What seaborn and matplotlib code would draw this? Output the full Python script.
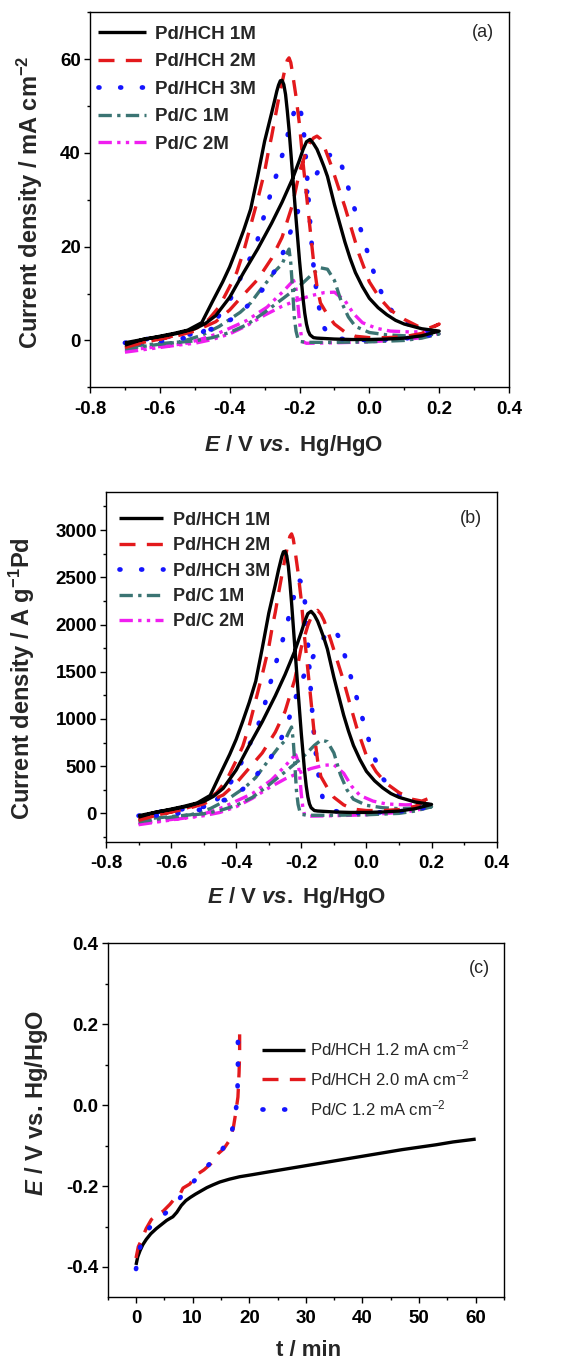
import matplotlib
matplotlib.use("Agg")
import matplotlib.pyplot as plt
from matplotlib.ticker import MultipleLocator
import pandas as pd
import seaborn as sns

# ------------------------------------------------------------------ data
cv_labels = ["Pd/HCH 1M", "Pd/HCH 2M", "Pd/HCH 3M", "Pd/C 1M", "Pd/C 2M"]

# Pd/HCH 1M
E_f_hch1 = [-0.70, -0.65, -0.60, -0.55, -0.50, -0.47, -0.44, -0.40, -0.36, -0.32, -0.28, -0.25, -0.22, -0.20,
            -0.19, -0.18, -0.17, -0.16, -0.15, -0.14, -0.13, -0.12, -0.11, -0.10, -0.085, -0.07, -0.055, -0.04,
            -0.02, 0.00, 0.025, 0.05, 0.075, 0.10, 0.15, 0.20]
ja_f_hch1 = [-1.0, 0.2, 0.8, 1.5, 2.5, 3.6, 5.3, 9.2, 14.5, 19.5, 25.0, 29.5, 34.5, 38.5,
             40.7, 42.4, 42.9, 42.0, 40.8, 39.0, 37.1, 35.0, 32.0, 29.0, 25.0, 21.0, 17.5, 14.5,
             11.5, 9.0, 7.0, 5.5, 4.3, 3.5, 2.5, 2.0]
jb_f_hch1 = [-40, 10, 40, 75, 125, 180, 265, 460, 720, 970, 1245, 1470, 1720, 1920,
             2030, 2115, 2140, 2100, 2035, 1945, 1850, 1740, 1590, 1440, 1240, 1040, 870, 720,
             570, 445, 345, 270, 210, 170, 120, 95]
E_b_hch1 = [0.20, 0.15, 0.10, 0.05, 0.00, -0.05, -0.10, -0.15, -0.16, -0.17, -0.175, -0.18, -0.185, -0.19,
            -0.20, -0.21, -0.22, -0.23, -0.235, -0.24, -0.245, -0.25, -0.255, -0.26, -0.265, -0.27, -0.28,
            -0.29, -0.30, -0.32, -0.34, -0.36, -0.38, -0.40, -0.42, -0.45, -0.48, -0.52, -0.56, -0.60, -0.65,
            -0.70]
ja_b_hch1 = [2.0, 1.0, 0.5, 0.3, 0.2, 0.2, 0.3, 0.5, 0.6, 1.2, 2.0, 3.5, 5.8, 9.0,
             17.0, 26.0, 35.5, 45.0, 49.0, 52.5, 54.6, 55.5, 55.4, 54.5, 53.2, 51.6, 48.5,
             45.5, 42.5, 35.0, 28.0, 23.5, 19.5, 15.7, 12.5, 8.2, 3.8, 2.2, 1.5, 0.9, 0.2,
             -0.5]
jb_b_hch1 = [95, 50, 25, 15, 10, 10, 15, 25, 30, 60, 100, 175, 290, 445,
             840, 1290, 1760, 2230, 2440, 2620, 2730, 2775, 2770, 2720, 2650, 2580, 2420,
             2270, 2120, 1750, 1400, 1175, 975, 785, 625, 410, 190, 110, 75, 45, 10,
             -25]

# Pd/HCH 2M
E_f_hch2 = [-0.70, -0.65, -0.60, -0.55, -0.50, -0.47, -0.44, -0.40, -0.36, -0.32, -0.28, -0.25, -0.22, -0.20,
            -0.18, -0.17, -0.16, -0.15, -0.14, -0.13, -0.11, -0.09, -0.07, -0.05, -0.03, 0.00, 0.03, 0.06,
            0.10, 0.14, 0.17, 0.20]
ja_f_hch2 = [-1.5, -0.5, 0.3, 1.0, 2.0, 3.0, 4.0, 6.5, 9.8, 13.0, 17.5, 22.0, 29.0, 36.0,
             40.5, 42.2, 43.2, 43.6, 43.0, 41.5, 37.5, 33.0, 28.5, 23.5, 18.5, 12.5, 9.0, 6.5,
             4.5, 3.0, 2.6, 3.5]
jb_f_hch2 = [-75, -25, 15, 50, 100, 150, 195, 320, 480, 640, 860, 1080, 1420, 1760,
             1990, 2075, 2120, 2150, 2110, 2040, 1840, 1620, 1400, 1150, 910, 610, 440, 320,
             220, 150, 130, 170]
E_b_hch2 = [0.20, 0.15, 0.10, 0.05, 0.00, -0.04, -0.07, -0.10, -0.12, -0.14, -0.15, -0.16, -0.17, -0.18,
            -0.19, -0.20, -0.21, -0.22, -0.225, -0.23, -0.235, -0.24, -0.25, -0.26, -0.27, -0.28, -0.29,
            -0.30, -0.32, -0.34, -0.36, -0.38, -0.40, -0.43, -0.46, -0.49, -0.53, -0.58, -0.64, -0.70]
ja_b_hch2 = [3.5, 1.5, 0.8, 0.6, 0.6, 0.9, 1.8, 3.5, 5.5, 8.0, 11.5, 17.0, 24.0, 31.0,
             38.0, 46.0, 52.0, 57.0, 59.3, 60.3, 59.8, 58.5, 55.0, 51.5, 47.5, 43.5, 40.0,
             36.0, 30.0, 24.5, 19.0, 14.5, 11.5, 7.2, 4.5, 2.8, 1.6, 0.6, -0.3, -1.0]
jb_b_hch2 = [170, 75, 40, 30, 30, 45, 90, 170, 270, 390, 560, 830, 1180, 1520,
             1860, 2250, 2550, 2800, 2910, 2960, 2935, 2870, 2700, 2520, 2330, 2130, 1960,
             1760, 1470, 1200, 930, 710, 560, 350, 220, 140, 80, 30, -15, -50]

# Pd/HCH 3M
E_f_hch3 = [-0.70, -0.65, -0.60, -0.55, -0.50, -0.46, -0.42, -0.38, -0.35, -0.30, -0.265, -0.24, -0.22, -0.20,
            -0.17, -0.14, -0.12, -0.10, -0.08, -0.06, -0.04, -0.02, 0.00, 0.02, 0.05, 0.09, 0.14, 0.20]
ja_f_hch3 = [-0.5, 0.2, 0.6, 1.0, 1.4, 2.2, 3.4, 5.2, 7.3, 11.3, 15.6, 20.0, 24.5, 28.5,
             33.0, 37.0, 39.3, 40.0, 37.5, 32.5, 27.5, 22.5, 17.5, 12.8, 7.5, 4.3, 2.4, 1.4]
jb_f_hch3 = [-25, 10, 30, 50, 70, 110, 165, 255, 360, 555, 765, 980, 1200, 1400,
             1620, 1810, 1920, 1955, 1840, 1590, 1350, 1100, 860, 630, 370, 210, 120, 70]
E_b_hch3 = [0.20, 0.10, 0.00, -0.06, -0.10, -0.12, -0.135, -0.15, -0.16, -0.165, -0.17, -0.175, -0.18, -0.185,
            -0.19, -0.20, -0.21, -0.22, -0.23, -0.24, -0.26, -0.28, -0.30, -0.32, -0.34, -0.37, -0.40, -0.44,
            -0.48, -0.52, -0.58, -0.64, -0.70]
ja_b_hch3 = [1.4, 0.4, 0.1, 0.2, 0.5, 1.5, 3.5, 9.5, 16.0, 20.5, 25.5, 31.0, 37.0, 42.0,
             46.5, 50.0, 50.5, 47.5, 45.0, 42.0, 36.8, 32.0, 27.0, 21.5, 17.8, 13.2, 8.5, 4.3,
             1.6, 0.6, 0.0, -0.4, -0.8]
jb_b_hch3 = [70, 20, 5, 10, 25, 75, 170, 465, 785, 1000, 1250, 1520, 1810, 2060,
             2280, 2450, 2480, 2330, 2210, 2060, 1800, 1570, 1320, 1050, 870, 650, 415, 210,
             80, 30, 0, -20, -40]

# Pd/C 1M
E_f_c1 = [-0.70, -0.65, -0.60, -0.55, -0.50, -0.45, -0.40, -0.35, -0.30, -0.25, -0.22, -0.19, -0.16, -0.14,
          -0.12, -0.10, -0.08, -0.06, -0.04, 0.00, 0.05, 0.10, 0.15, 0.20]
ja_f_c1 = [-1.8, -1.3, -0.8, -0.4, -0.1, 0.6, 1.7, 3.4, 6.0, 8.8, 10.5, 12.3, 14.4, 15.5,
           15.2, 12.8, 8.2, 5.0, 3.0, 1.7, 1.2, 1.0, 1.1, 1.4]
jb_f_c1 = [-90, -65, -40, -20, -5, 30, 85, 170, 300, 440, 525, 615, 720, 775,
           760, 640, 410, 250, 150, 85, 60, 50, 55, 70]
E_b_c1 = [0.20, 0.15, 0.10, 0.00, -0.10, -0.18, -0.20, -0.205, -0.21, -0.215, -0.22, -0.225, -0.23, -0.24,
          -0.25, -0.27, -0.29, -0.31, -0.34, -0.37, -0.39, -0.43, -0.48, -0.54, -0.62, -0.70]
ja_b_c1 = [1.4, 0.5, 0.0, -0.3, -0.4, -0.4, -0.2, 0.5, 2.0, 5.0, 11.0, 16.5, 19.5, 18.0,
           16.3, 14.8, 12.8, 11.0, 8.0, 6.0, 5.0, 3.0, 1.1, -0.3, -0.8, -1.3]
jb_b_c1 = [70, 25, 0, -15, -20, -20, -10, 25, 95, 240, 520, 780, 915, 850,
           770, 700, 610, 520, 380, 285, 235, 140, 50, -15, -40, -65]

# Pd/C 2M
E_f_c2 = [-0.70, -0.65, -0.60, -0.55, -0.50, -0.45, -0.40, -0.35, -0.30, -0.25, -0.21, -0.17, -0.13, -0.10,
          -0.07, -0.045, -0.02, 0.02, 0.06, 0.12, 0.20]
ja_f_c2 = [-2.5, -2.0, -1.5, -1.0, -0.6, 0.2, 1.4, 3.2, 5.4, 7.3, 8.5, 9.5, 10.2, 10.3,
           8.5, 5.7, 3.8, 2.6, 2.0, 1.8, 2.0]
jb_f_c2 = [-120, -95, -70, -45, -25, 10, 70, 160, 270, 365, 425, 475, 510, 515,
           425, 285, 190, 130, 100, 90, 100]
E_b_c2 = [0.20, 0.15, 0.10, 0.00, -0.10, -0.18, -0.19, -0.195, -0.20, -0.205, -0.21, -0.217, -0.23, -0.245,
          -0.27, -0.293, -0.32, -0.35, -0.40, -0.44, -0.49, -0.53, -0.60, -0.65, -0.70]
ja_b_c2 = [1.5, 0.6, 0.2, -0.3, -0.5, -0.6, -0.3, 1.0, 4.0, 8.0, 11.0, 12.8, 11.8, 10.6,
           8.8, 7.1, 5.8, 4.3, 2.6, 1.3, 0.1, -0.7, -1.3, -1.7, -2.1]
jb_b_c2 = [75, 30, 10, -15, -25, -30, -15, 50, 200, 400, 550, 620, 580, 520,
           430, 350, 285, 210, 130, 65, 5, -35, -65, -85, -105]

# Panel (c): chronopotentiometry
cp_labels = ["Pd/HCH 1.2 mA cm$^{-2}$", "Pd/HCH 2.0 mA cm$^{-2}$", "Pd/C 1.2 mA cm$^{-2}$"]
t_hch12 = [0, 0.3, 0.7, 1.2, 1.8, 2.6, 3.6, 4.5, 5.4, 6.0, 6.5, 7.2, 8.0, 8.8, 9.6, 10.5, 11.5, 12.5, 13.6,
           14.8, 16.5, 18.3, 20.5, 23.0, 26.0, 29.0, 32.0, 35.0, 38.0, 41.0, 44.0, 47.0, 50.0, 53.0, 56.0, 60.0]
E_hch12 = [-0.395, -0.375, -0.360, -0.345, -0.332, -0.318, -0.305, -0.295, -0.285, -0.280, -0.276, -0.265,
           -0.248, -0.236, -0.228, -0.220, -0.212, -0.204, -0.197, -0.190, -0.183, -0.177, -0.172, -0.166,
           -0.159, -0.152, -0.145, -0.138, -0.131, -0.124, -0.117, -0.110, -0.104, -0.098, -0.091, -0.084]
t_hch20 = [0, 0.4, 0.9, 1.8, 2.7, 3.6, 4.8, 6.0, 7.0, 7.7, 8.3, 9.5, 10.7, 12.0, 13.2, 14.5, 15.5, 16.6,
           17.2, 17.6, 18.0, 18.2, 18.3, 18.3]
E_hch20 = [-0.378, -0.350, -0.335, -0.305, -0.283, -0.272, -0.262, -0.245, -0.228, -0.222, -0.205, -0.195,
           -0.172, -0.160, -0.145, -0.120, -0.108, -0.085, -0.055, -0.020, 0.020, 0.080, 0.130, 0.175]
t_c12 = [0, 0.5, 1.0, 2.0, 3.0, 4.5, 6.0, 7.5, 8.6, 10.0, 11.3, 12.8, 14.2, 15.3, 16.3, 17.0, 17.4, 17.7,
         17.9, 18.0, 18.0, 18.0]
E_c12 = [-0.405, -0.360, -0.340, -0.310, -0.292, -0.275, -0.258, -0.235, -0.213, -0.192, -0.170, -0.148,
         -0.126, -0.108, -0.087, -0.060, -0.036, -0.005, 0.030, 0.075, 0.125, 0.180]

# ------------------------------------------------------------------ style
sns.set_theme(style="ticks")
plt.rcParams.update({
    "font.weight": "bold",
    "axes.labelweight": "bold",
    "axes.linewidth": 1.0,
    "axes.edgecolor": "black",
    "axes.unicode_minus": False,
    "mathtext.fontset": "custom",
    "mathtext.it": "Liberation Sans:italic:bold",
    "mathtext.rm": "Liberation Sans:bold",
    "mathtext.bf": "Liberation Sans:bold",
    "mathtext.default": "regular",
    "xtick.color": "black",
    "ytick.color": "black",
})
plt.rcParams["font.family"] = ["Liberation Sans", "DejaVu Sans"]

colors = ["#000000", "#e3191c", "#1414ff", "#3b7473", "#f01ef0"]
styles = ["-", (0, (4.8, 3.4)), (0, (0.2, 4.4)), (0, (4.0, 1.6, 1.0, 1.6)),
          (0, (4.0, 1.6, 1.0, 1.6, 1.0, 1.6))]
widths = [2.4, 2.4, 3.4, 2.4, 2.4]
caps = ["butt", "butt", "round", "butt", "butt"]

fig = plt.figure(figsize=(5.77, 13.6), dpi=100)
ax_a = fig.add_axes([0.1560, 0.7152, 0.7262, 0.2757])
ax_b = fig.add_axes([0.1837, 0.3811, 0.6771, 0.2569])
ax_c = fig.add_axes([0.1867, 0.0461, 0.6868, 0.2603])

cv_a = [(E_f_hch1 + E_b_hch1, ja_f_hch1 + ja_b_hch1),
        (E_f_hch2 + E_b_hch2, ja_f_hch2 + ja_b_hch2),
        (E_f_hch3 + E_b_hch3, ja_f_hch3 + ja_b_hch3),
        (E_f_c1 + E_b_c1, ja_f_c1 + ja_b_c1),
        (E_f_c2 + E_b_c2, ja_f_c2 + ja_b_c2)]
cv_b = [(E_f_hch1 + E_b_hch1, jb_f_hch1 + jb_b_hch1),
        (E_f_hch2 + E_b_hch2, jb_f_hch2 + jb_b_hch2),
        (E_f_hch3 + E_b_hch3, jb_f_hch3 + jb_b_hch3),
        (E_f_c1 + E_b_c1, jb_f_c1 + jb_b_c1),
        (E_f_c2 + E_b_c2, jb_f_c2 + jb_b_c2)]


def draw_cv(ax, data):
    handles = [None] * len(cv_labels)
    for i in reversed(range(len(cv_labels))):
        x, y = data[i]
        df = pd.DataFrame({"E": x, "j": y})
        sns.lineplot(data=df, x="E", y="j", sort=False, estimator=None, ax=ax,
                     color=colors[i], linestyle=styles[i], linewidth=widths[i],
                     dash_capstyle=caps[i], solid_capstyle="butt", solid_joinstyle="round",
                     label=cv_labels[i])
        handles[i] = ax.get_lines()[-1]
    return handles


def style_axes(ax, xmaj, xmin, ymaj, ymin):
    ax.xaxis.set_major_locator(MultipleLocator(xmaj))
    ax.xaxis.set_minor_locator(MultipleLocator(xmin))
    ax.yaxis.set_major_locator(MultipleLocator(ymaj))
    ax.yaxis.set_minor_locator(MultipleLocator(ymin))
    ax.tick_params(which="major", direction="out", length=4.5, width=1.0, labelsize=13.5)
    ax.tick_params(which="minor", direction="out", length=2.5, width=1.0)
    ax.tick_params(axis="x", which="major", pad=5)
    ax.tick_params(axis="y", which="major", pad=2)
    for s in ax.spines.values():
        s.set_visible(True)
        s.set_linewidth(1.0)
        s.set_color("black")


xlabel_E = r"$\mathit{E}$ / V $\mathit{vs.}$ Hg/HgO"

# ---- panel (a)
h = draw_cv(ax_a, cv_a)
ax_a.set_xlim(-0.8, 0.4)
ax_a.set_ylim(-10, 70)
style_axes(ax_a, 0.2, 0.1, 20, 10)
ax_a.set_xlabel(xlabel_E, fontsize=16, va="center")
ax_a.set_ylabel("Current density / mA cm$^{-2}$", fontsize=17, va="center")
ax_a.xaxis.set_label_coords(0.487, -0.154)
ax_a.yaxis.set_label_coords(-0.143, 0.495)
ax_a.legend(h, cv_labels, loc="upper left", bbox_to_anchor=(0.019, 0.964), frameon=False,
            borderaxespad=0, borderpad=0, fontsize=13.5, handlelength=2.56, handletextpad=0.5,
            labelspacing=0.55)
ax_a.text(0.938, 0.945, "(a)", transform=ax_a.transAxes, ha="center", va="center",
          fontsize=13, fontweight="normal")

# ---- panel (b)
h = draw_cv(ax_b, cv_b)
ax_b.set_xlim(-0.8, 0.4)
ax_b.set_ylim(-300, 3400)
style_axes(ax_b, 0.2, 0.1, 500, 250)
ax_b.set_xlabel(xlabel_E, fontsize=16, va="center")
ax_b.set_ylabel("Current density / A g$^{-1}$Pd", fontsize=17, va="center")
ax_b.xaxis.set_label_coords(0.488, -0.161)
ax_b.yaxis.set_label_coords(-0.215, 0.466)
ax_b.legend(h, cv_labels, loc="upper left", bbox_to_anchor=(0.033, 0.945), frameon=False,
            borderaxespad=0, borderpad=0, fontsize=13, handlelength=2.44, handletextpad=0.54,
            labelspacing=0.47)
ax_b.text(0.933, 0.926, "(b)", transform=ax_b.transAxes, ha="center", va="center",
          fontsize=13, fontweight="normal")

# ---- panel (c)
cp_data = [(t_hch12, E_hch12), (t_hch20, E_hch20), (t_c12, E_c12)]
cp_colors = ["#000000", "#e3191c", "#1414ff"]
cp_styles = ["-", (0, (4.8, 3.4)), (0, (0.2, 4.4))]
cp_widths = [2.4, 2.4, 3.4]
cp_caps = ["butt", "butt", "round"]
hc = [None] * 3
for i in [0, 1, 2]:
    x, y = cp_data[i]
    df = pd.DataFrame({"t": x, "E": y})
    sns.lineplot(data=df, x="t", y="E", sort=False, estimator=None, ax=ax_c,
                 color=cp_colors[i], linestyle=cp_styles[i], linewidth=cp_widths[i],
                 dash_capstyle=cp_caps[i], solid_capstyle="butt", solid_joinstyle="round",
                 label=cp_labels[i])
    hc[i] = ax_c.get_lines()[-1]
ax_c.set_xlim(-5, 65)
ax_c.set_ylim(-0.475, 0.4)
style_axes(ax_c, 10, 5, 0.2, 0.1)
ax_c.set_xlabel("t / min", fontsize=16, va="center")
ax_c.set_ylabel(r"$\mathit{E}$ / V vs. Hg/HgO", fontsize=17, va="center")
ax_c.xaxis.set_label_coords(0.507, -0.149)
ax_c.yaxis.set_label_coords(-0.179, 0.548)
ax_c.legend(hc, cp_labels, loc="upper left", bbox_to_anchor=(0.389, 0.731), frameon=False,
            borderaxespad=0, borderpad=0, handlelength=2.6, handletextpad=0.3,
            labelspacing=0.6, prop={"size": 12, "weight": "normal"})
ax_c.text(0.939, 0.930, "(c)", transform=ax_c.transAxes, ha="center", va="center",
          fontsize=13, fontweight="normal")

fig.savefig("out.png", dpi=100)
